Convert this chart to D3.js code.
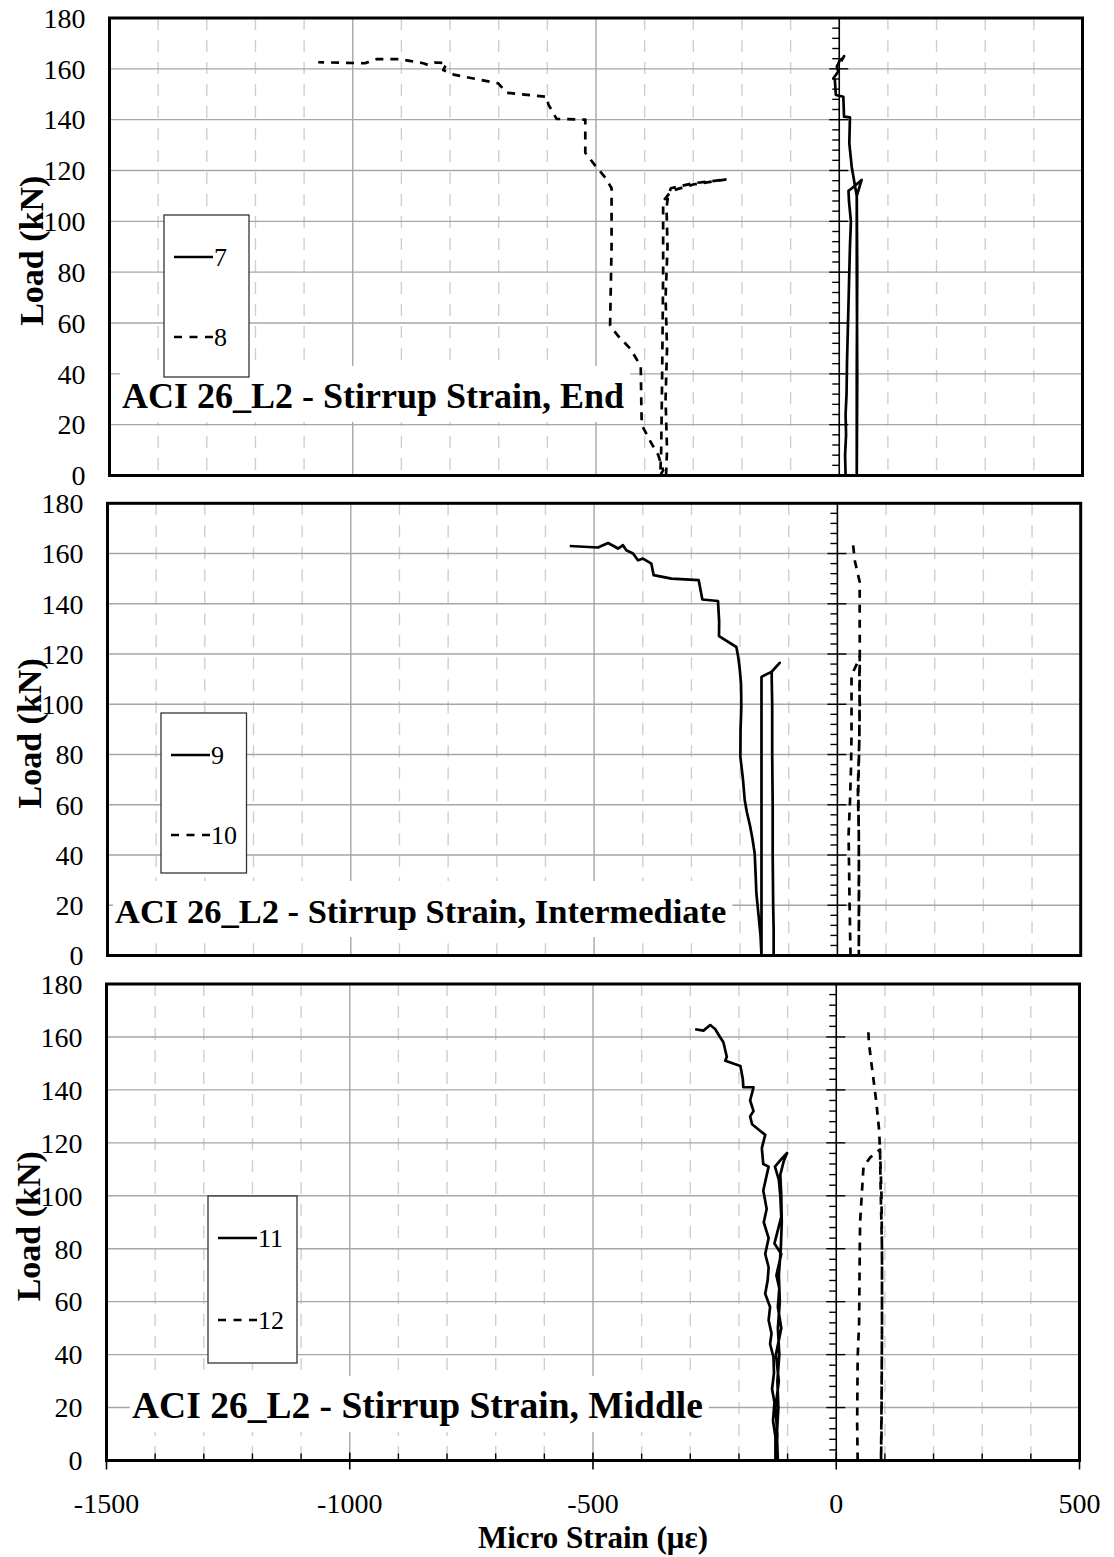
<!DOCTYPE html>
<html><head><meta charset="utf-8">
<script src="https://cdn.jsdelivr.net/npm/d3@7"></script>
<style>body{margin:0;background:#fff}svg{display:block}</style>
</head><body>
<svg id="chart" width="1114" height="1557"></svg>
<script>
// ---------------- DATA ----------------
const xTickValues = [-1500, -1000, -500, 0, 500];
const xTickLabels = ["-1500", "-1000", "-500", "0", "500"];
const yTickValues = [0, 20, 40, 60, 80, 100, 120, 140, 160, 180];
const panelTitles = ["ACI 26_L2 - Stirrup Strain, End", "ACI 26_L2 - Stirrup Strain, Intermediate", "ACI 26_L2 - Stirrup Strain, Middle"];
const legendNames = [["7", "8"], ["9", "10"], ["11", "12"]];
const yAxisTitle = "Load (kN)";
const xAxisTitle = "Micro Strain (με)";

// [micro strain, load kN]
const gauge7 = [[13,0],[12,8],[14,16],[13,24],[15,32],[16,45],[18,60],[20,75],[22,90],[24,100],[20,108],[19,112],[26,113],[46,116.3],
  [36,110],[36,80],[37,40],[36,0],[36,40],[37,80],[36,110],[29,117.6],[25.6,121.5],[20.7,130.7],[22,140.9],[9.8,141.2],[8.4,149],
  [-7,149.7],[-9,155.6],[-12,156.3],[-2,158.9],[-5,160.8],[1.5,163.5],[7,164.1],[10,165],[4,163]];
const gauge8 = [[-356,0],[-354,10],[-357,30],[-354,50],[-357,70],[-353,90],[-355,105],[-352,110],[-346,113],[-300,115],[-231,116.5],
  [-300,114.5],[-345,112],[-362,108],[-362,80],[-364,40],[-366,10],[-368,0],
  [-362,2],[-372,8],[-390,14],[-406,20],[-407,30],[-408,43],[-430,50],[-455,55],[-471,59],[-470,70],[-468,90],[-468,113],
  [-480,117],[-502,122],[-522,127],[-522,135],[-522,140],[-581,140.3],[-598,146],[-601,149],[-684,150.6],[-701,154.3],
  [-790,157.6],[-814,159.5],[-807,162.2],[-830,162.5],[-845,161.5],[-855,162.2],[-886,163.2],[-903,163.8],[-951,163.8],[-975,162.2],[-1071,162.6]];
const gauge9 = [[-131,0],[-131,10],[-132,20],[-133,40],[-133,60],[-134,80],[-134,100],[-135,110],[-135,112.9],[-118.6,116.5],
  [-135.7,112.9],[-156,110.9],[-156,80],[-156,40],[-156,0],
  [-158,8],[-162,16],[-166.5,24.7],[-168,32],[-170,40.7],[-175,47],[-180,52],[-186,57],[-190.5,61.9],[-194,70],[-199.4,79.1],
  [-199,90],[-197.4,99],[-198,108],[-200.8,114.2],[-204,119],[-207.6,122.8],[-243.3,127.1],[-243,133],[-245.4,141.1],
  [-277.5,141.7],[-285,149.4],[-341,150],[-377.6,151.4],[-382.4,156],[-399.5,158],[-409.8,157.3],[-420,160],[-433.8,161.3],
  [-440.7,163.3],[-451,162],[-458,162.8],[-471.5,164.2],[-492,162.4],[-550,163]];
const gauge10 = [[27,0],[26,10],[25,21],[24,35],[23,48],[26,62],[28,75],[29,88],[29,99],[29,111.6],[39,115.6],[46,119.5],
  [45,110],[46,100],[45,86],[42,66],[44,48],[44,25],[44,0],
  [44.5,20],[44,48],[43,66],[45,86],[45.5,100],[46,119.5],[45.8,134.8],[45.8,148.7],[35.6,157.3],[32,164]];
const gauge11 = [[-123,0],[-121,10],[-125,20],[-118,30],[-124,40],[-113,50],[-120,58],[-117,65],[-123,70],[-113,78],[-127,82],
  [-113,92],[-115,100],[-118,106],[-126,111],[-112,114],[-101,116.2],
  [-108,113],[-115,108],[-113,100],[-112,90],[-114,80],[-118,70],[-116,60],[-120,50],[-117,40],[-121,30],[-119,20],[-122,10],[-120,0],
  [-125,0],[-125,9],[-130,15],[-127,22],[-132,27],[-128,33],[-129,39],[-136,44],[-133,48],[-139,53],[-136,58],[-146,63],[-141,68],
  [-139,73],[-146,78],[-139,84],[-149,90],[-143,95],[-150,102],[-139,111],[-150,112],[-153,118],[-146,123],[-173,127],[-177,130],
  [-170,132],[-177,136],[-170,141],[-191,141],[-192,144],[-197,149],[-228,151],[-225,152.5],[-232,158],[-239,160],[-249,163],
  [-259,164.5],[-273,162.4],[-290,162.9]];
const gauge12 = [[44,0],[43,14],[44,39],[47,52],[48,73],[49,90],[53,102],[56,111],[70,114.5],[90,117.5],
  [93,100],[94,77],[94,52],[93,9],[92,0],
  [93,20],[94,50],[94,80],[91,105],[90,117],[88,125],[82,136],[73,149],[67,158],[66,162],[56,163]];

const panelSeries = [[gauge7, gauge8], [gauge9, gauge10], [gauge11, gauge12]];

// ---------------- LAYOUT ----------------
const layout = [
  {x0:109.5, x1:1082.5, y0:18, y1:475.5, title:{x:122, base:408, size:36}, legend:{x:164, y:215, w:85, h:162, l1:42, l2:122}},
  {x0:107.5, x1:1080.7, y0:503.3, y1:955.5, title:{x:115, base:923, size:34.5}, legend:{x:161, y:713, w:85.5, h:160, l1:42, l2:122}},
  {x0:106.5, x1:1079.5, y0:984, y1:1460.5, title:{x:132, base:1418, size:37.5}, legend:{x:208, y:1196, w:89, h:167, l1:42, l2:124}}
];
const serif = "'Liberation Serif','Times New Roman',serif";

const svg = d3.select("#chart");

layout.forEach((L, pi) => {
  const x = d3.scaleLinear().domain([-1500, 500]).range([L.x0, L.x1]);
  const y = d3.scaleLinear().domain([0, 180]).range([L.y1, L.y0]);
  const g = svg.append("g");

  // vertical gridlines every 100
  const vTicks = d3.range(-1400, 500, 100).filter(v => v !== 0);
  g.selectAll(".vg").data(vTicks).enter().append("line")
    .attr("x1", d => x(d)).attr("x2", d => x(d)).attr("y1", L.y0).attr("y2", L.y1)
    .attr("stroke", d => (d % 500 === 0) ? "#a6a6a6" : "#cfcfcf")
    .attr("stroke-width", 1.4)
    .attr("stroke-dasharray", d => (d % 500 === 0) ? null : "12,10");
  // horizontal gridlines
  g.selectAll(".hg").data(yTickValues.filter(v => v > 0 && v < 180)).enter().append("line")
    .attr("x1", L.x0).attr("x2", L.x1).attr("y1", d => y(d)).attr("y2", d => y(d))
    .attr("stroke", "#a6a6a6").attr("stroke-width", 1.4);

  // title box + title
  const t = g.append("text").attr("x", L.title.x).attr("y", L.title.base)
    .attr("font-family", serif).attr("font-weight", "bold").attr("font-size", L.title.size)
    .attr("fill", "#000").text(panelTitles[pi]);
  const bb = t.node().getBBox();
  g.insert("rect", function(){ return t.node(); })
    .attr("x", bb.x - 2).attr("y", L.title.base - 42).attr("width", bb.width + 8).attr("height", 56)
    .attr("fill", "#fff");

  // zero axis with ticks
  g.append("line").attr("x1", x(0)).attr("x2", x(0)).attr("y1", L.y0).attr("y2", L.y1)
    .attr("stroke", "#000").attr("stroke-width", 1.6);
  const minor = d3.range(4, 180, 4).filter(v => v % 20 !== 0);
  g.selectAll(".mt").data(minor).enter().append("line")
    .attr("x1", x(0) - 7).attr("x2", x(0)).attr("y1", d => y(d)).attr("y2", d => y(d))
    .attr("stroke", "#000").attr("stroke-width", 1.4);
  g.selectAll(".Mt").data(yTickValues.filter(v => v > 0 && v < 180)).enter().append("line")
    .attr("x1", x(0) - 10).attr("x2", x(0) + 9).attr("y1", d => y(d)).attr("y2", d => y(d))
    .attr("stroke", "#000").attr("stroke-width", 1.4);

  // legend
  const lg = L.legend;
  g.append("rect").attr("x", lg.x).attr("y", lg.y).attr("width", lg.w).attr("height", lg.h)
    .attr("fill", "#fff").attr("stroke", "#333").attr("stroke-width", 1.3);
  [lg.l1, lg.l2].forEach((dy, si) => {
    g.append("line").attr("x1", lg.x + 10).attr("x2", lg.x + 49).attr("y1", lg.y + dy).attr("y2", lg.y + dy)
      .attr("stroke", "#000").attr("stroke-width", 2.6)
      .attr("stroke-dasharray", si === 1 ? "8,7.5" : null);
    g.append("text").attr("x", lg.x + 50).attr("y", lg.y + dy).attr("dy", "0.35em")
      .attr("font-family", serif).attr("font-size", 26).text(legendNames[pi][si]);
  });

  // series
  const line = d3.line().x(d => x(d[0])).y(d => y(d[1]));
  panelSeries[pi].forEach((s, si) => {
    g.append("path").datum(s).attr("d", line).attr("fill", "none")
      .attr("stroke", "#000").attr("stroke-width", 2.7).attr("stroke-linejoin", "round")
      .attr("stroke-dasharray", si === 1 ? "8,7" : null);
  });

  // border
  g.append("rect").attr("x", L.x0).attr("y", L.y0).attr("width", L.x1 - L.x0).attr("height", L.y1 - L.y0)
    .attr("fill", "none").attr("stroke", "#000").attr("stroke-width", 3);

  // y tick labels
  g.selectAll(".yl").data(yTickValues).enter().append("text")
    .attr("x", L.x0 - 24).attr("y", d => y(d)).attr("dy", "0.35em").attr("text-anchor", "end")
    .attr("font-family", serif).attr("font-size", 28).text(d => d);

  // y title
  g.append("text").attr("transform", `translate(${L.x0 - 78},${(L.y0 + L.y1) / 2 + 4}) rotate(-90)`)
    .attr("text-anchor", "middle").attr("dy", "0.35em")
    .attr("font-family", serif).attr("font-weight", "bold").attr("font-size", 34).text(yAxisTitle);

  // bottom axis ticks and labels only on last panel
  if (pi === 2) {
    const xm = d3.range(-1400, 500, 100).filter(v => v % 500 !== 0);
    g.selectAll(".xm").data(xm).enter().append("line")
      .attr("x1", d => x(d)).attr("x2", d => x(d)).attr("y1", L.y1 - 7).attr("y2", L.y1)
      .attr("stroke", "#000").attr("stroke-width", 1.4);
    g.selectAll(".xM").data(xTickValues).enter().append("line")
      .attr("x1", d => x(d)).attr("x2", d => x(d)).attr("y1", L.y1 - 8).attr("y2", L.y1 + 9)
      .attr("stroke", "#000").attr("stroke-width", 1.6);
    g.selectAll(".xl").data(xTickValues).enter().append("text")
      .attr("x", d => x(d)).attr("y", L.y1 + 52).attr("text-anchor", "middle")
      .attr("font-family", serif).attr("font-size", 28).text((d, i) => xTickLabels[i]);
    g.append("text").attr("x", (L.x0 + L.x1) / 2).attr("y", L.y1 + 87).attr("text-anchor", "middle")
      .attr("font-family", serif).attr("font-weight", "bold").attr("font-size", 31).text(xAxisTitle);
  }
});
</script>
</body></html>
